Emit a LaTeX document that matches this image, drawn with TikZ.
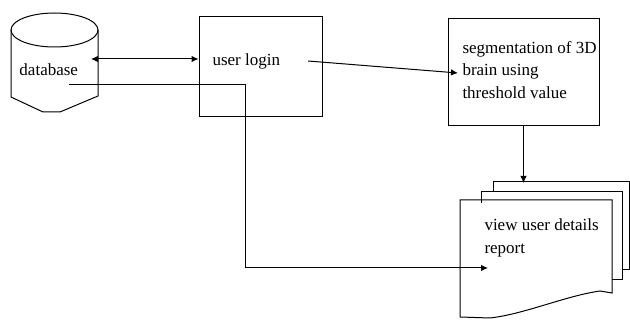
\documentclass[tikz,border=0pt]{standalone}
\usepackage{fontspec}
\setmainfont{Liberation Serif}
\usepackage{tikz}
\usetikzlibrary{arrows.meta}

\begin{document}
\begin{tikzpicture}[x=1pt, y=-1pt, line width=1pt]
        % Styles
        \tikzstyle{block} = [rectangle, draw, minimum width=123pt, minimum height=100pt]
        \tikzstyle{wideblock} = [rectangle, draw, minimum width=151pt, minimum height=107pt]
        \tikzstyle{boxtext} = [anchor=west, inner sep=0pt, align=left,
            font=\fontsize{17}{22.5}\selectfont]
        \tikzstyle{line} = [draw, -{Latex[length=7pt, width=6.5pt]}, shorten >=0pt, shorten <=0pt]
        \tikzstyle{twoway} = [draw, {Latex[length=7pt, width=6.5pt]}-{Latex[length=7pt, width=6.5pt]}]

        \useasboundingbox (0,0) rectangle (630,320);

        % Database
        \draw (11,30) -- (11,97) -- (43,112) -- (60,112) -- (98,96) -- (98,30);
        \draw (54.5,30) ellipse (43.5 and 17);
        \node [boxtext] (db) at (19,70) {database};

        % Nodes
        \node [block] (login) at (260.5,67) {};
        \node [boxtext] (logintxt) at (212,61) {user login};

        \node [wideblock] (seg) at (523.5,72.5) {};
        \node [boxtext] (segtxt) at (462,70) {segmentation of 3D\\brain using\\threshold value};

        % Report stack
        \draw (493,192) -- (493,182) -- (629,182) -- (629,270) -- (622,270);
        \draw (481,203) -- (481,192) -- (622,192) -- (622,280) -- (612,280);
        \draw (460,317) -- (460,200) -- (612,200) -- (612,293) -- (600,291)
            .. controls (565,296) and (525,314) .. (490,318) -- (460,317);
        \node [boxtext] (rep) at (484,238) {view user details\\report};

        % Ends of the connectors
        \coordinate (dbport) at (91,59);
        \coordinate (dbout) at (69,85);
        \coordinate (bend) at (245,85);
        \coordinate (loginout) at (308,61);
        \coordinate (segin) at (458,73);
        \coordinate (stacktop) at (522,183);
        \coordinate (repin) at (488,268);

        % Connections
        \path [twoway] (dbport) -- (dbport -| login.west);
        \path [line] (loginout) -- (segin);
        \path [line] (seg.south) -- (seg.south |- stacktop);
        \path [line] (dbout) -- (bend) |- (repin);
    \end{tikzpicture}
\end{document}
